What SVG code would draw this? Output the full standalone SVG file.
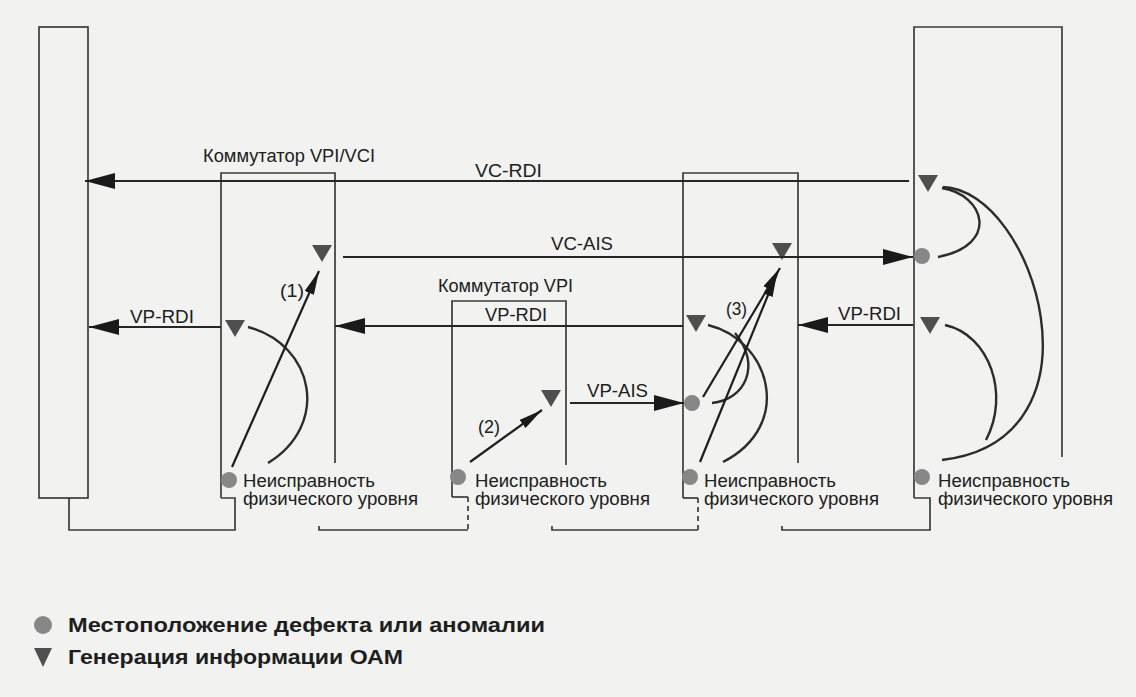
<svg xmlns="http://www.w3.org/2000/svg" width="1136" height="697" viewBox="0 0 1136 697">
<style>
.box{fill:none;stroke:#3c3c3c;stroke-width:1.7}
.dash{fill:none;stroke:#3c3c3c;stroke-width:1.7;stroke-dasharray:5 4}
.conn{fill:none;stroke:#262626;stroke-width:1.8}
.arc{fill:none;stroke:#2c2c2c;stroke-width:2.4}
.diag{fill:none;stroke:#1e1e1e;stroke-width:2.2}
.lbl{font-family:"Liberation Sans",Arial,sans-serif;font-size:19px;fill:#202020}
.sm{font-family:"Liberation Sans",Arial,sans-serif;font-size:17.5px;fill:#202020}
.leg{font-family:"Liberation Sans",Arial,sans-serif;font-size:21px;font-weight:bold;fill:#1e1e1e}
.dot{fill:#878787}
.tri{fill:#4f4f4f}
</style>
<defs>
<marker id="big" viewBox="0 0 30 16" markerWidth="30" markerHeight="16" refX="30" refY="8" orient="auto" markerUnits="userSpaceOnUse">
<path d="M0,0 L30,8 L0,16 z" fill="#1a1a1a"/>
</marker>
<marker id="small" viewBox="0 0 24 10" markerWidth="24" markerHeight="10" refX="24" refY="5" orient="auto" markerUnits="userSpaceOnUse">
<path d="M0,0 L24,5 L0,10 z" fill="#1a1a1a"/>
</marker>
<path id="gen" d="M-10,0 L10,0 L0,17 z"/>
<path id="genbig" d="M-9,0 L9,0 L0,19 z"/>
</defs>
<rect x="0" y="0" width="1136" height="697" fill="#f2f2f0"/>

<g id="endpoint-left">
<rect class="box" x="39" y="27" width="49" height="471"/>
</g>

<g id="switch-vpivci">
<path class="box" d="M221,498 L221,173 L335,173 L335,463"/>
<path class="box" d="M221,498 L235,498 L235,530 L69,530 L69,498"/>
<text class="sm" x="203" y="162" textLength="172" lengthAdjust="spacingAndGlyphs" style="font-size:18px">Коммутатор VPI/VCI</text>
<use href="#gen" class="tri" x="322" y="245"/>
<use href="#gen" class="tri" x="235" y="320"/>
<circle class="dot" cx="229" cy="480" r="8"/>
<text class="sm" x="243" y="487" textLength="132" lengthAdjust="spacingAndGlyphs">Неисправность</text>
<text class="sm" x="243" y="505" textLength="175" lengthAdjust="spacingAndGlyphs">физического уровня</text>
</g>

<g id="switch-vpi">
<path class="box" d="M452,497 L452,301 L566,301 L566,465"/>
<path class="box" d="M452,497 L468,497"/>
<path class="dash" d="M468,497 L468,530"/>
<path class="box" d="M319,526 L319,530 L468,530"/>
<text class="sm" x="438" y="292" textLength="135" lengthAdjust="spacingAndGlyphs" style="font-size:18px">Коммутатор VPI</text>
<use href="#gen" class="tri" x="551" y="390"/>
<circle class="dot" cx="458" cy="477" r="8"/>
<text class="sm" x="475" y="487" textLength="132" lengthAdjust="spacingAndGlyphs">Неисправность</text>
<text class="sm" x="475" y="505" textLength="175" lengthAdjust="spacingAndGlyphs">физического уровня</text>
</g>

<g id="switch-third">
<path class="box" d="M683,498 L683,173 L798,173 L798,463"/>
<path class="box" d="M683,498 L698,498"/>
<path class="dash" d="M698,498 L698,530"/>
<path class="box" d="M552,526 L552,530 L698,530"/>
<use href="#gen" class="tri" x="782" y="243"/>
<use href="#gen" class="tri" x="696" y="315"/>
<circle class="dot" cx="692" cy="403" r="8"/>
<circle class="dot" cx="690" cy="477" r="8"/>
<text class="sm" x="704" y="487" textLength="132" lengthAdjust="spacingAndGlyphs">Неисправность</text>
<text class="sm" x="704" y="505" textLength="175" lengthAdjust="spacingAndGlyphs">физического уровня</text>
</g>

<g id="endpoint-right">
<path class="box" d="M914,498 L914,27 L1062,27 L1062,457"/>
<path class="box" d="M914,498 L930,498 L930,530 L782,530 L782,526"/>
<use href="#gen" class="tri" x="928" y="175"/>
<use href="#gen" class="tri" x="930" y="317"/>
<circle class="dot" cx="922" cy="256" r="8"/>
<circle class="dot" cx="922" cy="477" r="8"/>
<text class="sm" x="938" y="487" textLength="132" lengthAdjust="spacingAndGlyphs">Неисправность</text>
<text class="sm" x="938" y="505" textLength="175" lengthAdjust="spacingAndGlyphs">физического уровня</text>
</g>

<g id="connectors">
<line class="conn" x1="909" y1="181" x2="85" y2="181" marker-end="url(#big)"/>
<text class="lbl" x="475" y="177" textLength="67" lengthAdjust="spacingAndGlyphs">VC-RDI</text>
<line class="conn" x1="343" y1="257" x2="913" y2="257" marker-end="url(#big)"/>
<text class="lbl" x="551" y="250" textLength="62" lengthAdjust="spacingAndGlyphs">VC-AIS</text>
<line class="conn" x1="221" y1="327" x2="89" y2="327" marker-end="url(#big)"/>
<text class="lbl" x="130" y="323" textLength="64" lengthAdjust="spacingAndGlyphs">VP-RDI</text>
<line class="conn" x1="683" y1="326" x2="335" y2="326" marker-end="url(#big)"/>
<text class="lbl" x="485" y="321" textLength="62" lengthAdjust="spacingAndGlyphs">VP-RDI</text>
<line class="conn" x1="913" y1="325" x2="798" y2="325" marker-end="url(#big)"/>
<text class="lbl" x="838" y="320" textLength="63" lengthAdjust="spacingAndGlyphs">VP-RDI</text>
<line class="conn" x1="570" y1="403" x2="684" y2="403" marker-end="url(#big)"/>
<text class="lbl" x="587" y="397" textLength="61" lengthAdjust="spacingAndGlyphs">VP-AIS</text>

<path class="arc" d="M248,327 C315,345 330,425 268,463"/>
<line class="diag" x1="232" y1="467" x2="319" y2="271" marker-end="url(#small)"/>
<text class="lbl" x="280" y="297" textLength="24" lengthAdjust="spacingAndGlyphs">(1)</text>

<line class="diag" x1="470" y1="462" x2="542" y2="410" marker-end="url(#small)"/>
<text class="lbl" x="478" y="433" textLength="22" lengthAdjust="spacingAndGlyphs">(2)</text>

<path class="arc" d="M708,325 C770,340 795,425 723,462"/>
<path class="arc" d="M712,403 C745,400 762,365 735,333"/>
<line class="diag" x1="703" y1="397" x2="780" y2="268" marker-end="url(#small)"/>
<line class="diag" x1="700" y1="462" x2="777" y2="273" marker-end="url(#small)"/>
<text class="lbl" x="726" y="315" textLength="21" lengthAdjust="spacingAndGlyphs">(3)</text>

<path class="arc" d="M942,188 C985,195 1000,245 938,257"/>
<path class="arc" d="M943,187 C1035,190 1112,440 942,460"/>
<path class="arc" d="M945,325 C990,335 1010,395 986,440"/>
</g>

<g id="legend">
<circle class="dot" cx="43" cy="625" r="9"/>
<text class="leg" x="68" y="632" textLength="477" lengthAdjust="spacingAndGlyphs">Местоположение дефекта или аномалии</text>
<use href="#genbig" class="tri" x="43" y="648"/>
<text class="leg" x="68" y="664" textLength="335" lengthAdjust="spacingAndGlyphs">Генерация информации ОАМ</text>
</g>
</svg>
